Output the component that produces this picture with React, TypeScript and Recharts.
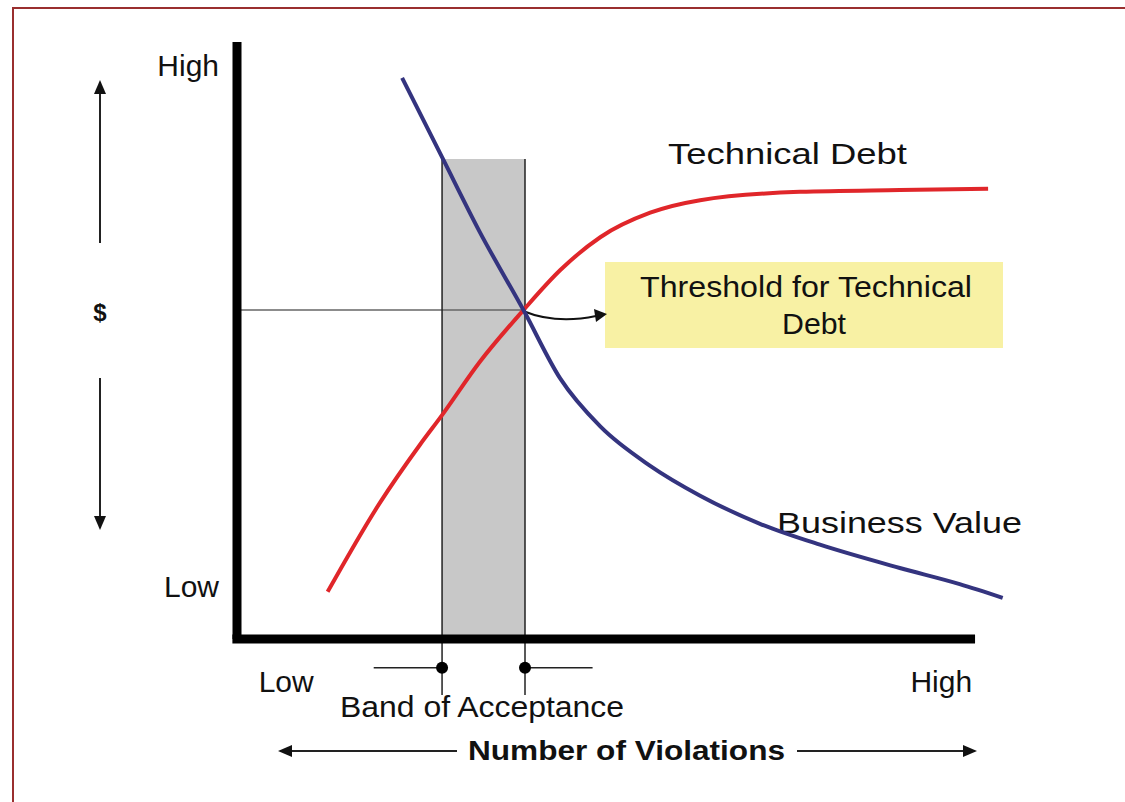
import React from 'react'
import { ComposedChart, Line, XAxis, YAxis, ReferenceArea, ReferenceLine, ReferenceDot, Customized } from 'recharts'

// curves: x = number of violations, y = $ (both 0..100)
const techDebtX = [11.8, 18.6, 23.8, 26.7, 31.6, 37.3, 42.1, 47.3, 53.8, 60.3, 73.3, 86.3, 97.8]
const techDebtY = [7.9, 22.8, 32.5, 37.5, 46.4, 55.1, 61.8, 67.3, 71.4, 73.5, 74.9, 75.2, 75.4]
const bizValueX = [21.5, 26.7, 31.6, 37.3, 42.1, 47.3, 53.8, 60.3, 68.1, 75.9, 86.3, 94.1, 99.7]
const bizValueY = [94.0, 80.7, 68.2, 55.1, 43.6, 35.6, 29.0, 24.0, 19.3, 15.8, 11.9, 9.2, 6.9]

const yTicks = [96.1, 8.9]
const yTickLabels = ['High', 'Low']
const xTicks = [6.4, 91.7]
const xTickLabels = ['Low', 'High']

// band of acceptance and threshold
const bandStart = 26.7
const bandEnd = 37.5
const bandTop = 80.4
const threshold = { x: 37.3, y: 55.1 }
const xAxisEnd = 96.1

const techDebt = techDebtX.map((x, i) => ({ x, y: techDebtY[i] }))
const bizValue = bizValueX.map((x, i) => ({ x, y: bizValueY[i] }))

const FONT = '"Liberation Sans", Arial, Helvetica, sans-serif'

const Txt = ({ x, y, w, size = 30, bold = false, children }: any) => (
  <text
    x={x}
    y={y}
    fontSize={size}
    fontFamily={FONT}
    fontWeight={bold ? 700 : 400}
    textLength={w}
    lengthAdjust="spacingAndGlyphs"
    fill="#111"
  >
    {children}
  </text>
)

const YTick = (props: any) => {
  const i = yTicks.indexOf(props.payload.value)
  return (
    <text x={props.x - 10} y={props.y} dy="0.36em" textAnchor="end" fontSize={30} fontFamily={FONT} fill="#111">
      {yTickLabels[i]}
    </text>
  )
}

const XTick = (props: any) => {
  const i = xTicks.indexOf(props.payload.value)
  return (
    <text x={props.x} y={props.y + 45} textAnchor="middle" fontSize={30} fontFamily={FONT} fill="#111">
      {xTickLabels[i]}
    </text>
  )
}

const Overlay = () => (
  <g>
    {/* $ axis arrows */}
    <line x1={100} y1={92} x2={100} y2={243} stroke="#222" strokeWidth={2} />
    <polygon points="100,80 94,94 106,94" fill="#111" />
    <line x1={100} y1={378} x2={100} y2={518} stroke="#222" strokeWidth={2} />
    <polygon points="100,530 94,516 106,516" fill="#111" />
    <text x={100} y={321} textAnchor="middle" fontSize={24} fontWeight={700} fontFamily={FONT} fill="#111">$</text>

    {/* violations arrows */}
    <line x1={290} y1={751} x2={457} y2={751} stroke="#222" strokeWidth={2} />
    <polygon points="278,751 292,745 292,757" fill="#111" />
    <line x1={797} y1={751} x2={965} y2={751} stroke="#222" strokeWidth={2} />
    <polygon points="977,751 963,745 963,757" fill="#111" />
    <Txt x={468} y={760} w={317} size={28} bold>Number of Violations</Txt>

    <Txt x={340} y={717} w={284}>Band of Acceptance</Txt>
    <Txt x={668} y={164} w={239}>Technical Debt</Txt>
    <Txt x={777} y={533} w={245}>Business Value</Txt>

    {/* threshold note */}
    <rect x={605} y={262} width={398} height={86} fill="#f8f1a4" />
    <Txt x={640} y={297} w={332}>Threshold for Technical</Txt>
    <Txt x={782} y={334} w={64}>Debt</Txt>

    {/* pointer from the crossing to the note */}
    <path d="M523,311 C545,320 568,322 596,316" fill="none" stroke="#111" strokeWidth={2} />
    <polygon points="607,314 594,309 596,322" fill="#111" />
  </g>
)

export default function App() {
  return (
    <div style={{ position: 'absolute', left: 0, top: 0, width: 1125, height: 802, background: '#fff', overflow: 'hidden' }}>
      <div
        style={{
          position: 'absolute',
          left: 12,
          top: 7,
          width: 1125,
          height: 820,
          borderTop: '2px solid #9a2f2f',
          borderLeft: '2px solid #9a2f2f',
        }}
      />
      <div style={{ position: 'absolute', left: 0, top: 0 }}>
        <ComposedChart width={1125} height={802} margin={{ top: 42, right: 120, bottom: 103, left: 157 }}>
          <XAxis
            type="number"
            dataKey="x"
            domain={[0, 100]}
            ticks={xTicks}
            tick={<XTick />}
            axisLine={false}
            tickLine={false}
            height={60}
            interval={0}
          />
          <YAxis
            type="number"
            domain={[0, 100]}
            ticks={yTicks}
            tick={<YTick />}
            axisLine={{ stroke: '#000', strokeWidth: 9 }}
            tickLine={false}
            width={80}
            interval={0}
          />
          <ReferenceArea x1={bandStart} x2={bandEnd} y1={0} y2={bandTop} fill="#c8c8c8" fillOpacity={1} stroke="none" />
          <ReferenceLine
            segment={[{ x: 0, y: threshold.y }, { x: threshold.x, y: threshold.y }]}
            stroke="#666"
            strokeWidth={1.5}
            ifOverflow="visible"
          />
          {[bandStart, bandEnd].map((b) => (
            <ReferenceLine
              key={b}
              segment={[{ x: b, y: bandTop }, { x: b, y: -9.4 }]}
              stroke="#222"
              strokeWidth={1.5}
              ifOverflow="visible"
            />
          ))}
          <ReferenceLine segment={[{ x: 17.8, y: -4.8 }, { x: bandStart, y: -4.8 }]} stroke="#222" strokeWidth={1.5} ifOverflow="visible" />
          <ReferenceLine segment={[{ x: bandEnd, y: -4.8 }, { x: 46.3, y: -4.8 }]} stroke="#222" strokeWidth={1.5} ifOverflow="visible" />
          <ReferenceDot x={bandStart} y={-4.8} r={6} fill="#000" stroke="none" ifOverflow="visible" />
          <ReferenceDot x={bandEnd} y={-4.8} r={6} fill="#000" stroke="none" ifOverflow="visible" />
          <ReferenceLine
            segment={[{ x: -0.6, y: 0 }, { x: xAxisEnd, y: 0 }]}
            stroke="#000"
            strokeWidth={9}
            ifOverflow="visible"
          />
          <Line
            data={techDebt}
            dataKey="y"
            type="monotone"
            stroke="#e0262a"
            strokeWidth={4}
            dot={false}
            isAnimationActive={false}
          />
          <Line
            data={bizValue}
            dataKey="y"
            type="monotone"
            stroke="#34347f"
            strokeWidth={4}
            dot={false}
            isAnimationActive={false}
          />
          <Customized component={Overlay} />
        </ComposedChart>
      </div>
    </div>
  )
}
